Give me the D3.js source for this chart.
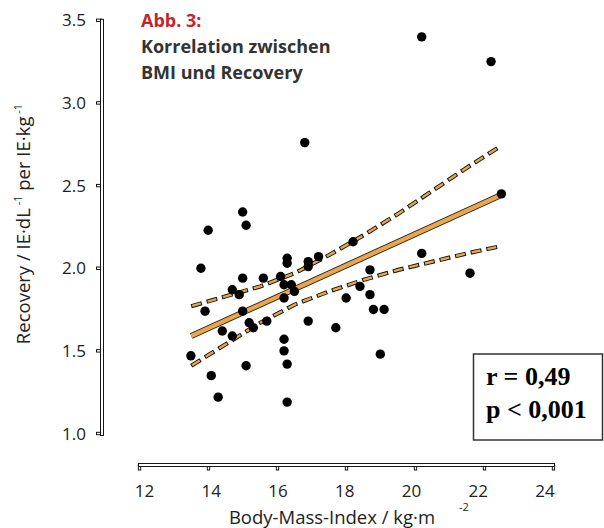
<!DOCTYPE html>
<html>
<head>
<meta charset="utf-8">
<script src="https://cdn.jsdelivr.net/npm/d3@7"></script>
<style>
  body { margin: 0; background: #fff; }
  svg { display: block; }
  .lbl { font-family: "Open Sans", "Noto Sans", sans-serif; font-size: 17px; fill: #222; }
  .axt { font-family: "Open Sans", "Noto Sans", sans-serif; font-size: 18.5px; fill: #222; }
  .ttl { font-family: "Open Sans", "Noto Sans", sans-serif; font-size: 18px; font-weight: 700; }
  .stat { font-family: "Liberation Serif", "Times New Roman", serif; font-size: 26px; font-weight: 700; fill: #000; }
</style>
</head>
<body>
<div id="chart"></div>
<script>
// BMI (x) and recovery (y)
const bmi = [14.99, 15.09, 13.99, 13.78, 14.99, 15.59, 14.69, 14.89, 13.90, 14.99,
             16.28, 16.28, 16.89, 16.89, 17.19, 18.19, 16.09, 16.19, 16.40, 16.49,
             16.19, 18.68, 18.39, 18.68, 18.78, 19.09, 17.99, 16.89, 17.69, 15.18,
             15.30, 15.69, 14.40, 14.69, 13.49, 14.08, 15.09, 16.19, 16.19, 16.28,
             14.28, 16.28, 18.98, 20.18, 22.19, 22.49, 20.18, 21.58, 16.79];
const recovery = [2.34, 2.26, 2.23, 2.00, 1.94, 1.94, 1.87, 1.84, 1.74, 1.74,
                  2.06, 2.03, 2.04, 2.01, 2.07, 2.16, 1.95, 1.90, 1.90, 1.86,
                  1.82, 1.99, 1.89, 1.84, 1.75, 1.75, 1.82, 1.68, 1.64, 1.67,
                  1.64, 1.68, 1.62, 1.59, 1.47, 1.35, 1.41, 1.57, 1.50, 1.42,
                  1.22, 1.19, 1.48, 3.40, 3.25, 2.45, 2.09, 1.97, 2.76];

// regression line and confidence band
const fitX = [13.5, 22.45];
const fitY = [1.59, 2.44];
const bandX = [13.5, 14.5, 15.5, 16.5, 17.5, 18.5, 19.5, 20.5, 21.5, 22.4];
const bandUpper = [1.77, 1.83, 1.89, 1.97, 2.08, 2.20, 2.33, 2.47, 2.61, 2.73];
const bandLower = [1.41, 1.54, 1.67, 1.78, 1.86, 1.93, 1.99, 2.04, 2.09, 2.13];

const xTicks = [12, 14, 16, 18, 20, 22, 24];
const yTicks = [1.0, 1.5, 2.0, 2.5, 3.0, 3.5];

const orange = "#eaa64c";

const svg = d3.select("#chart").append("svg")
    .attr("width", 604)
    .attr("height", 528);

const x = d3.scaleLinear().domain([12, 24]).range([139.5, 553.5]);
// tick labels sit on a slightly narrower spacing in the original
const xLab = d3.scaleLinear().domain([12, 24]).range([144.5, 545]);
const y = d3.scaleLinear().domain([1.0, 3.5]).range([433.5, 20.3]);

// y axis: outlined double line
const ya = svg.append("g");
yTicks.forEach(t => {
    ya.append("rect")
        .attr("x", 96.5).attr("y", y(t) - 1.2)
        .attr("width", 5).attr("height", 2.4)
        .attr("fill", "#fff").attr("stroke", "#000").attr("stroke-width", 0.9);
});
ya.append("rect")
    .attr("x", 100.5).attr("y", y(3.5) - 1)
    .attr("width", 3).attr("height", y(1.0) - y(3.5) + 3)
    .attr("fill", "#fff").attr("stroke", "#000").attr("stroke-width", 0.9);
ya.selectAll("text")
    .data(yTicks)
    .join("text")
    .attr("class", "lbl")
    .attr("x", 86)
    .attr("y", d => y(d) + 6)
    .attr("text-anchor", "end")
    .text(d => d.toFixed(1));

// x axis
const xa = svg.append("g");
xTicks.forEach(t => {
    xa.append("rect")
        .attr("x", x(t) - 1.2).attr("y", 465)
        .attr("width", 2.4).attr("height", 5)
        .attr("fill", "#fff").attr("stroke", "#000").attr("stroke-width", 0.9);
});
xa.append("rect")
    .attr("x", x(12) - 1).attr("y", 463.5)
    .attr("width", x(24) - x(12) + 2).attr("height", 3)
    .attr("fill", "#fff").attr("stroke", "#000").attr("stroke-width", 0.9);
xa.selectAll("text")
    .data(xTicks)
    .join("text")
    .attr("class", "lbl")
    .attr("x", d => xLab(d))
    .attr("y", 497)
    .attr("text-anchor", "middle")
    .text(d => d);

// axis titles
svg.append("text").attr("class", "axt")
    .attr("x", 332).attr("y", 524).attr("text-anchor", "middle")
    .text("Body-Mass-Index / kg·m");
svg.append("text").attr("class", "axt")
    .attr("x", 459).attr("y", 511)
    .style("font-size", "11px")
    .text("-2");

const yt = svg.append("text").attr("class", "axt")
    .attr("transform", "translate(30,224) rotate(-90)")
    .attr("text-anchor", "middle");
yt.append("tspan").text("Recovery / IE·dL");
yt.append("tspan").attr("dy", -8).style("font-size", "11px").text(" -1");
yt.append("tspan").attr("dy", 8).text("  per IE·kg");
yt.append("tspan").attr("dy", -8).style("font-size", "11px").text(" -1");

// title
const title = svg.append("g");
title.append("text").attr("class", "ttl").attr("x", 141).attr("y", 27)
    .attr("fill", "#c0272d").text("Abb. 3:");
title.append("text").attr("class", "ttl").attr("x", 141).attr("y", 53)
    .attr("fill", "#333").text("Korrelation zwischen");
title.append("text").attr("class", "ttl").attr("x", 141).attr("y", 79)
    .attr("fill", "#333").text("BMI und Recovery");

// confidence band (dashed, outlined)
const line = d3.line().x(d => x(d[0])).y(d => y(d[1]));
[bandUpper, bandLower].forEach(band => {
    const pts = bandX.map((v, i) => [v, band[i]]);
    svg.append("path")
        .attr("d", line(pts))
        .attr("fill", "none")
        .attr("stroke", "#111")
        .attr("stroke-width", 4.2)
        .attr("stroke-dasharray", "11 5");
    svg.append("path")
        .attr("d", line(pts))
        .attr("fill", "none")
        .attr("stroke", orange)
        .attr("stroke-width", 2.4)
        .attr("stroke-dasharray", "9 7")
        .attr("stroke-dashoffset", -1);
});

// regression line
const fitPts = fitX.map((v, i) => [v, fitY[i]]);
svg.append("path")
    .attr("d", line(fitPts))
    .attr("fill", "none")
    .attr("stroke", "#222")
    .attr("stroke-width", 6);
svg.append("path")
    .attr("d", line(fitPts))
    .attr("fill", "none")
    .attr("stroke", orange)
    .attr("stroke-width", 4.2);

// points
svg.append("g")
    .selectAll("circle")
    .data(bmi.map((v, i) => [v, recovery[i]]))
    .join("circle")
    .attr("cx", d => x(d[0]))
    .attr("cy", d => y(d[1]))
    .attr("r", 4.7)
    .attr("fill", "#000");

// statistics box
svg.append("rect")
    .attr("x", 473.5).attr("y", 354)
    .attr("width", 129).attr("height", 86)
    .attr("fill", "#fff")
    .attr("stroke", "#333")
    .attr("stroke-width", 1.5);
svg.append("text").attr("class", "stat").attr("x", 486).attr("y", 385).text("r = 0,49");
svg.append("text").attr("class", "stat").attr("x", 486).attr("y", 418).text("p < 0,001");
</script>
</body>
</html>
